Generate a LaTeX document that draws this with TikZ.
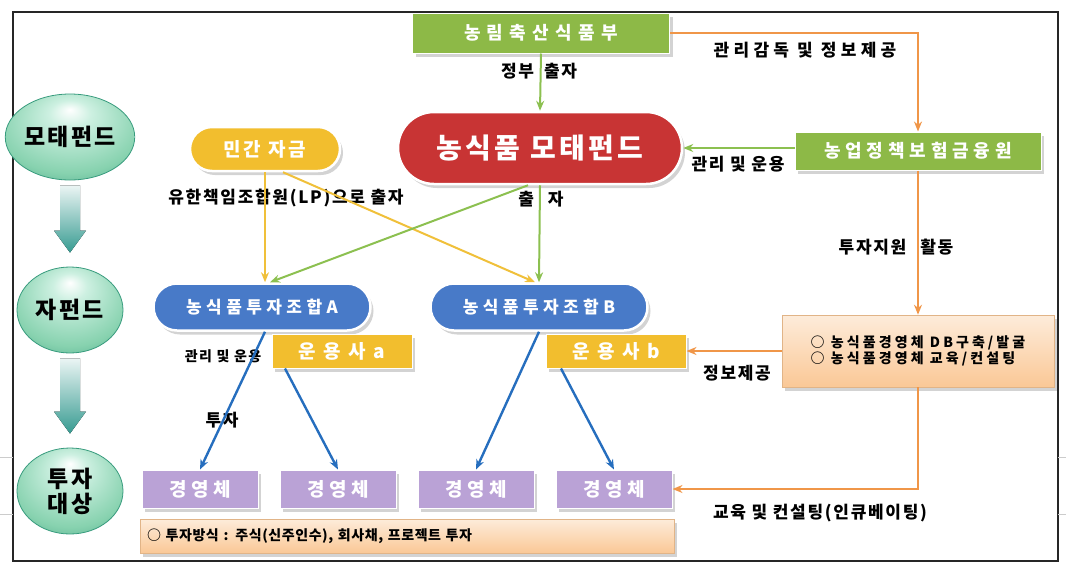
\documentclass[tikz,border=0pt]{standalone}
\usepackage{fontspec}
\setmainfont{Noto Sans CJK KR}
\usetikzlibrary{arrows.meta,shadows,shapes.geometric,shapes.misc}

\definecolor{govgreen}{RGB}{141,185,71}
\definecolor{fundred}{RGB}{200,52,52}
\definecolor{privyellow}{RGB}{242,190,46}
\definecolor{unionblue}{RGB}{72,122,200}
\definecolor{firmpurple}{RGB}{186,162,214}
\definecolor{boxorange}{RGB}{250,200,150}
\definecolor{lineorange}{RGB}{240,150,72}
\definecolor{linegreen}{RGB}{140,192,80}
\definecolor{lineyellow}{RGB}{240,192,58}
\definecolor{lineblue}{RGB}{38,110,190}
\definecolor{mintlight}{RGB}{205,240,225}
\definecolor{mintmid}{RGB}{135,210,175}
\definecolor{mintdark}{RGB}{55,155,125}
\definecolor{arrowteal}{RGB}{55,155,145}

\pgfdeclareradialshading{mintball}{\pgfpoint{0bp}{16bp}}{color(0bp)=(white);
  color(8bp)=(mintlight);color(28bp)=(mintmid);color(44bp)=(mintdark);color(50bp)=(mintdark!80!black)}

\newcommand{\fsz}[3]{\fontsize{#1}{#2}\selectfont\addfontfeature{LetterSpace=#3}}

\begin{document}
\begin{tikzpicture}[x=1pt,y=-1pt,>={Stealth[length=10pt,width=8pt]},
    every node/.style={inner sep=0pt},
    tag/.style={font=\bfseries\fsz{17}{20}{#1}},
    tag/.default=10,
    boxshadow/.style={drop shadow={shadow xshift=3pt,shadow yshift=-4pt,opacity=.35}},
    govbox/.style={rectangle,fill=govgreen,draw=white,line width=1pt,boxshadow,minimum height=40pt,text=white,font=\bfseries\fsz{18}{20}{#1}},
    govbox/.default=35,
    pill/.style={rounded rectangle,fill=#1,draw=white,line width=2.5pt,boxshadow,text=white},
    mgrbox/.style={rectangle,fill=privyellow,draw=white,line width=1pt,boxshadow,minimum width=140pt,minimum height=34pt,text=white,font=\bfseries\fsz{19}{22}{40}},
    firmbox/.style={rectangle,fill=firmpurple,draw=white,line width=1pt,boxshadow,minimum width=116pt,minimum height=38pt,text=white,font=\bfseries\fsz{19}{22}{25}},
    notebox/.style={rectangle,top color=boxorange!35!white,bottom color=boxorange,draw=boxorange!90!black,line width=.6pt,boxshadow},
    sphere/.style={ellipse,minimum width=106pt,minimum height=86pt,shading=mintball,draw=mintdark,line width=.8pt,align=center,font=\bfseries\fsz{23}{25}{10}},
    blockarrow/.style={top color=arrowteal!10!white,bottom color=arrowteal},
    orangeline/.style={->,draw=lineorange,line width=2.4pt},
    greenline/.style={->,draw=linegreen,line width=2pt},
    yellowline/.style={->,draw=lineyellow,line width=2pt},
    blueline/.style={->,draw=lineblue,line width=2.4pt}]

  \useasboundingbox (0,0) rectangle (1066,574);
  \draw[line width=1.8pt,black!85] (13,12) rectangle (1058,561);
  \draw[black!20,line width=.8pt] (0,457) -- (13,457) (0,514) -- (13,514)
    (1058,457) -- (1066,457) (1058,514) -- (1066,514);

  % levels on the left
  \node[sphere] (lvl1) at (70,137) {모태펀드};
  \node[sphere] (lvl2) at (70,310) {자펀드};
  \node[sphere] (lvl3) at (70,491) {투자\\대상};
  \foreach \a/\b in {lvl1/lvl2,lvl2/lvl3}
    \fill[blockarrow] ([xshift=-10pt,yshift=-5pt]\a.south) -- ([xshift=10pt,yshift=-5pt]\a.south)
      -- ([xshift=10pt,yshift=36pt]\b.north) -- ([xshift=16pt,yshift=36pt]\b.north)
      -- ([yshift=14pt]\b.north) -- ([xshift=-16pt,yshift=36pt]\b.north)
      -- ([xshift=-10pt,yshift=36pt]\b.north) -- cycle;

  % funds and agencies
  \node[govbox,minimum width=257pt] (mafra) at (541,33) {농림축산식품부};
  \node[pill=fundred,minimum width=284pt,minimum height=72pt,font=\bfseries\fsz{28}{30}{12}] (mofund) at (540,148) {농식품 모태펀드};
  \node[pill=privyellow,minimum width=150pt,minimum height=44pt,font=\bfseries\fsz{19}{22}{15}] (private) at (265,149) {민간 자금};
  \node[govbox=27,minimum width=246pt,minimum height=38pt] (apfs) at (918,151) {농업정책보험금융원};
  \node[pill=unionblue,minimum width=217pt,minimum height=47pt,font=\bfseries\fsz{17}{20}{26}] (unionA) at (262,307) {농식품투자조합A};
  \node[pill=unionblue,minimum width=217pt,minimum height=47pt,font=\bfseries\fsz{17}{20}{26}] (unionB) at (539,307) {농식품투자조합B};
  \node[mgrbox] (mgrA) at (342,351) {운용사a};
  \node[mgrbox] (mgrB) at (616,351) {운용사b};
  \node[notebox,minimum width=272pt,minimum height=72pt,align=left,font=\bfseries\fsz{14}{16}{22}] (support) at (918,351) {○ 농식품경영체 DB구축/발굴\\○ 농식품경영체 교육/컨설팅};
  \foreach \i in {1,...,4}
    \node[firmbox] (firm\i) at ({200+138*(\i-1)},489) {경영체};
  \node[notebox,minimum width=534pt,minimum height=34pt,text width=520pt,align=left,font=\bfseries\fsz{14}{16}{4}] (method) at (407,536) {○ 투자방식 : 주식(신주인수), 회사채, 프로젝트 투자};

  % labels
  \node[tag] (govlbl) at (539,71) {정부\hspace{10pt}출자};
  \node[tag=25] (supervlbl) at (805,50) {관리감독 및 정보제공};
  \node[tag] (mgmtlbl) at (738,164) {관리 및 운용};
  \node[tag] (lplbl) at (286,198) {유한책임조합원(LP)으로 출자};
  \node[tag] (invlbl) at (541,199) {출\hspace{14pt}자};
  \node[tag] (supportlbl) at (896,247) {투자지원\hspace{14pt}활동};
  \node[tag] (infolbl) at (737,373) {정보제공};
  \node[font=\bfseries\fsz{14}{16}{10}] (mgmtAlbl) at (223,356) {관리 및 운용};
  \node[tag] (investlbl) at (222,420) {투자};
  \node[tag] (edulbl) at (820,513) {교육 및 컨설팅(인큐베이팅)};

  % connectors
  \draw[greenline] (mafra.south) -- (mofund.north);
  \draw[orangeline] (mafra.east) -| (apfs.north);
  \draw[greenline] (apfs.west |- mofund.east) -- (mofund.east);
  \draw[orangeline] (apfs.south) -- (support.north);
  \draw[orangeline] (support.west) -- (mgrB.east);
  \draw[orangeline] (support.south) |- (firm4.east);
  \draw[yellowline] (private.south) -- (private.south |- unionA.north);
  \draw[yellowline] ([xshift=18pt]private.south) -- ([xshift=-4pt]unionB.north);
  \draw[greenline] (mofund.south) -- (unionB.north);
  \draw[greenline] ([xshift=-12pt]mofund.south) -- ([xshift=8pt]unionA.north);
  \draw[blueline] ([xshift=3pt]unionA.south) -- (firm1.north);
  \draw[blueline] ([xshift=-57pt]mgrA.south) -- (firm2.north);
  \draw[blueline] (unionB.south) -- (firm3.north);
  \draw[blueline] ([xshift=-55pt]mgrB.south) -- (firm4.north);
\end{tikzpicture}
\end{document}
